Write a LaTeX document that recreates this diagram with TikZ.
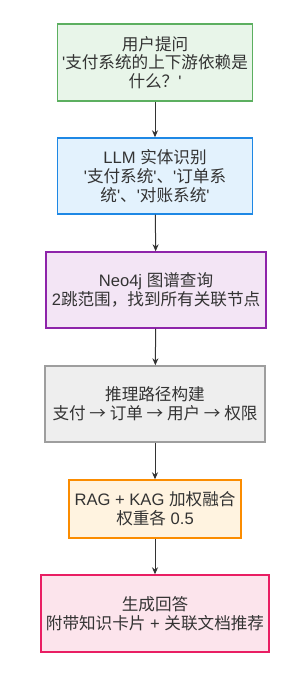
\documentclass[tikz,border=0pt]{standalone}
\usepackage{fontspec}
\newfontfamily\la{Liberation Sans}
\newfontfamily\cj{Noto Sans CJK SC}
\usetikzlibrary{arrows.meta}
\definecolor{txt}{HTML}{333333}
\definecolor{gF}{HTML}{E8F5E9}\definecolor{gD}{HTML}{5CAF60}
\definecolor{bF}{HTML}{E3F2FD}\definecolor{bD}{HTML}{1E88E5}
\definecolor{pF}{HTML}{F3E5F5}\definecolor{pD}{HTML}{8E24AA}
\definecolor{yF}{HTML}{EEEEEE}\definecolor{yD}{HTML}{9E9E9E}
\definecolor{oF}{HTML}{FFF3E0}\definecolor{oD}{HTML}{FB8C00}
\definecolor{kF}{HTML}{FCE4EC}\definecolor{kD}{HTML}{E91E63}
\tikzset{
  box/.style={draw, line width=1.4pt, inner sep=0pt, align=center, text=txt,
    font=\la\fontsize{16.6}{18.8}\selectfont},
  arr/.style={draw=txt, line width=1pt, -{Stealth[length=7pt,width=6pt]}}
}
\begin{document}
\begin{tikzpicture}[x=1pt,y=-1pt]
\useasboundingbox (0,0) rectangle (304,681);
\node[box, fill=gF, draw=gD, minimum width=195pt, minimum height=77pt] (b1) at (155,62.5)
  {{\cj 用户提问}\\'{\cj 支付系统的上下游依赖是}\\{\cj 什么？}'};
\node[box, fill=bF, draw=bD, minimum width=195pt, minimum height=76pt] (b2) at (155,176)
  {LLM {\cj 实体识别}\\'{\cj 支付系统}'{\cj 、}'{\cj 订单系}\\{\cj 统}'{\cj 、}'{\cj 对账系统}'};
\node[box, fill=pF, draw=pD, minimum width=220pt, minimum height=76pt] (b3) at (156,290)
  {Neo4j {\cj 图谱查询}\\2{\cj 跳范围，找到所有关联节点}};
\node[box, fill=yF, draw=yD, minimum width=220pt, minimum height=76pt] (b4) at (155,404)
  {{\cj 推理路径构建}\\{\cj 支付 → 订单 → 用户 → 权限}};
\node[box, fill=oF, draw=oD, minimum width=172pt, minimum height=58pt] (b5) at (155,509)
  {RAG + KAG {\cj 加权融合}\\{\cj 权重各} 0.5};
\node[box, fill=kF, draw=kD, minimum width=228pt, minimum height=77pt] (b6) at (155,613.5)
  {{\cj 生成回答}\\{\cj 附带知识卡片} + {\cj 关联文档推荐}};
\draw[arr] (b1) -- (b2);
\draw[arr] (b2) -- (b3);
\draw[arr] (b3) -- (b4);
\draw[arr] (b4) -- (b5);
\draw[arr] (b5) -- (b6);
\end{tikzpicture}
\end{document}
